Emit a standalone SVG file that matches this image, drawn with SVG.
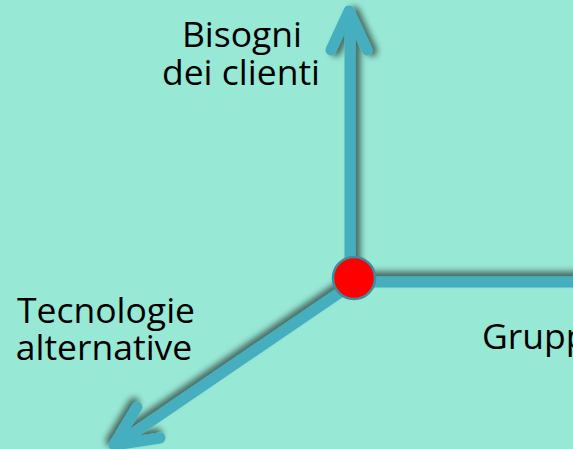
<svg xmlns="http://www.w3.org/2000/svg" width="573" height="449" viewBox="0 0 573 449">
  <defs>
    <filter id="shV" filterUnits="userSpaceOnUse" x="300" y="-20" width="110" height="330">
      <feGaussianBlur in="SourceAlpha" stdDeviation="3"/>
      <feOffset dx="5" dy="1" result="b"/>
      <feComponentTransfer><feFuncA type="linear" slope="0.55"/></feComponentTransfer>
      <feMerge><feMergeNode/><feMergeNode in="SourceGraphic"/></feMerge>
    </filter>
    <filter id="shH" filterUnits="userSpaceOnUse" x="330" y="250" width="300" height="60">
      <feGaussianBlur in="SourceAlpha" stdDeviation="3"/>
      <feOffset dx="0" dy="-5" result="b"/>
      <feComponentTransfer><feFuncA type="linear" slope="0.55"/></feComponentTransfer>
      <feMerge><feMergeNode/><feMergeNode in="SourceGraphic"/></feMerge>
    </filter>
    <filter id="shD" filterUnits="userSpaceOnUse" x="80" y="260" width="300" height="220">
      <feGaussianBlur in="SourceAlpha" stdDeviation="3"/>
      <feOffset dx="-3" dy="-4" result="b"/>
      <feComponentTransfer><feFuncA type="linear" slope="0.55"/></feComponentTransfer>
      <feMerge><feMergeNode/><feMergeNode in="SourceGraphic"/></feMerge>
    </filter>
  </defs>
  <style>
    .ax { fill: none; stroke: #45AEBF; stroke-width: 11; stroke-linecap: round; stroke-linejoin: round; }
    .lbl { font-family: "Open Sans", "Noto Sans", "DejaVu Sans", sans-serif; font-size: 35.5px; fill: #000000; }
  </style>
  <rect x="0" y="0" width="573" height="449" fill="#97E8D5"/>
  <g id="connectors">
    <g id="axis-vertical" filter="url(#shV)">
      <path class="ax" d="M350 280 L350 12"/>
      <path class="ax" d="M331 50 L349 11 L367 50"/>
    </g>
    <g id="axis-horizontal" filter="url(#shH)">
      <path class="ax" d="M354 282 L590 282" stroke-linecap="butt"/>
    </g>
    <g id="axis-diagonal" filter="url(#shD)">
      <path class="ax" d="M345 289 L116 445"/>
      <path class="ax" d="M137 407 L114 445 L160 438"/>
    </g>
  </g>
  <g id="origin">
    <circle cx="354" cy="278" r="21" fill="#FF0000" stroke="#3C8E9D" stroke-width="2.5"/>
  </g>
  <g id="label-bisogni">
    <text class="lbl" text-anchor="middle" x="242" y="47">Bisogni</text>
    <text class="lbl" text-anchor="middle" x="241" y="85">dei clienti</text>
  </g>
  <g id="label-tecnologie">
    <text class="lbl" text-anchor="middle" x="106" y="323">Tecnologie</text>
    <text class="lbl" text-anchor="middle" x="104" y="360">alternative</text>
  </g>
  <g id="label-gruppi">
    <text class="lbl" x="482" y="349">Grupp</text>
  </g>
</svg>
